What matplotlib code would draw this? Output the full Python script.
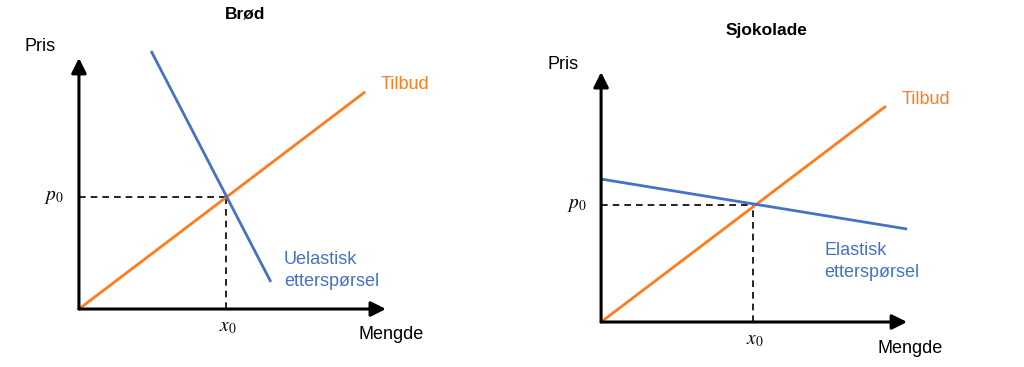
"""
Tilbud og etterspørsel: uelastisk (brød) og elastisk (sjokolade)
"""
import matplotlib
matplotlib.use("Agg")
import matplotlib.pyplot as plt

plt.rcParams['font.family'] = ['Liberation Sans', 'DejaVu Sans']
plt.rcParams['mathtext.fontset'] = 'stix'

ORANSJE = '#FF7B1C'
BLAA = '#4472C4'

# data (vilkårlige enheter, akse 0..10)
titler = ["Brød", "Sjokolade"]
tilbud_x = [[0, 9.32], [0, 9.31]]
tilbud_y = [[0, 8.65], [0, 8.64]]
ettersp_x = [[2.35, 6.25], [0, 10.0]]
ettersp_y = [[10.28, 1.08], [5.72, 3.72]]
ettersp_tekst = ["Uelastisk\netterspørsel", "Elastisk\netterspørsel"]
x0_verdi = [4.79, 4.97]
p0_verdi = [4.46, 4.67]

# plassering av akser (figurkoordinater) og tekster (dataenheter)
akse_pos = [[0.0771, 0.158, 0.2998, 0.684], [0.587, 0.1226, 0.2988, 0.681]]
ettersp_tekst_pos = [(6.68, 1.53), (7.29, 2.42)]
pris_pos = [(-1.27, 10.44), (-1.24, 10.32)]
mengde_pos = [(10.16, -1.0), (10.1, -1.08)]
tittel_pos = [(5.41, 11.75), (5.39, 11.68)]
tilbud_tekst_pos = [(10.62, 8.96), (10.62, 8.92)]

fig = plt.figure(figsize=(10.24, 3.67), dpi=100)

for i in range(2):
    ax = fig.add_axes(akse_pos[i])
    ax.set_xlim(0, 10)
    ax.set_ylim(0, 10)
    ax.axis('off')

    # akser med piler
    pil = dict(arrowstyle='-|>,head_length=0.6,head_width=0.3', lw=2.2, color='black',
               shrinkA=0, shrinkB=0, mutation_scale=15)
    ax.annotate('', xy=(0, 10), xytext=(0, 0), arrowprops=pil, annotation_clip=False)
    ax.annotate('', xy=(10, 0), xytext=(0, 0), arrowprops=pil, annotation_clip=False)

    # stiplede hjelpelinjer
    ax.plot([0, x0_verdi[i]], [p0_verdi[i], p0_verdi[i]], color='black', lw=1.2,
            ls=(0, (4, 3)), clip_on=False)
    ax.plot([x0_verdi[i], x0_verdi[i]], [0, p0_verdi[i]], color='black', lw=1.2,
            ls=(0, (4, 3)), clip_on=False)

    # kurver
    ax.plot(tilbud_x[i], tilbud_y[i], color=ORANSJE, lw=2, clip_on=False, solid_capstyle='butt')
    ax.plot(ettersp_x[i], ettersp_y[i], color=BLAA, lw=2, clip_on=False, solid_capstyle='butt')

    # tekster
    ax.text(*tittel_pos[i], titler[i], ha='center', va='center', fontsize=12.5, fontweight='bold')
    ax.text(*pris_pos[i], "Pris", ha='center', va='center', fontsize=13)
    ax.text(*mengde_pos[i], "Mengde", ha='center', va='center', fontsize=13)
    ax.text(*tilbud_tekst_pos[i], "Tilbud", ha='center', va='center', fontsize=13, color=ORANSJE)
    ax.text(*ettersp_tekst_pos[i], ettersp_tekst[i], ha='left', va='center', fontsize=13,
            color=BLAA, linespacing=1.4)
    ax.text(-0.8, p0_verdi[i], r"$p_0$", ha='center', va='center', fontsize=14)
    ax.text(x0_verdi[i] + 0.05, -0.72, r"$x_0$", ha='center', va='center', fontsize=14)

fig.savefig("out.png", dpi=100)
